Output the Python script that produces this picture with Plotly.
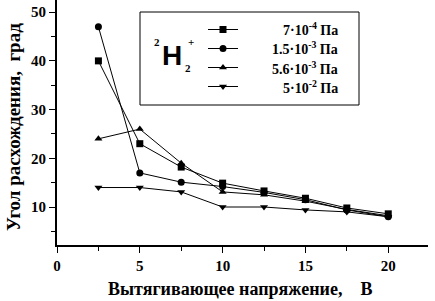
import plotly.graph_objects as go

voltage = [2.5, 5, 7.5, 10, 12.5, 15, 17.5, 20]
s1 = [40, 23, 18.2, 14.9, 13.3, 11.8, 9.8, 8.6]
s2 = [47, 17, 15.1, 14.2, 13.0, 11.5, 9.4, 8.0]
s3 = [24, 26, 19, 13.1, 12.5, 11.2, 9.5, 8.2]
s4 = [14, 14, 13.1, 10.0, 10.0, 9.4, 9.0, 8.0]
names = ["7·10<sup>-4</sup> Па", "1.5·10<sup>-3</sup> Па",
         "5.6·10<sup>-3</sup> Па", "5·10<sup>-2</sup> Па"]
symbols = ["square", "circle", "triangle-up", "triangle-down"]
xticks = [0, 5, 10, 15, 20]
yticks = [10, 20, 30, 40, 50]

fig = go.Figure()
for ys, nm, sym in zip([s1, s2, s3, s4], names, symbols):
    fig.add_trace(go.Scatter(x=voltage, y=ys, name=" ", mode="lines+markers",
                             line=dict(color="black", width=1),
                             marker=dict(symbol=sym, size=7, color="black")))

serif = "Liberation Serif, Times New Roman, serif"
X0, X1, H = 57, 428, 245

def px(xp, yp):
    return (xp - X0) / (X1 - X0), 1 - (yp / H)

fig.update_layout(
    width=435, height=301,
    margin=dict(l=X0, r=435 - X1, t=0, b=301 - H),
    paper_bgcolor="white", plot_bgcolor="white",
    font=dict(family=serif, color="black", size=14),
    showlegend=True,
    legend=dict(x=px(203, 0)[0], y=px(0, 15)[1], xanchor="left", yanchor="top",
                bgcolor="rgba(0,0,0,0)", borderwidth=0,
                font=dict(family=serif, size=12),
                tracegroupgap=0, itemwidth=30),
    xaxis=dict(range=[0, 22.4], tickvals=xticks, ticktext=[f"<b>{v}</b>" for v in xticks],
               showgrid=False, zeroline=False, showline=True, linecolor="black", linewidth=2,
               ticks="outside", ticklen=6, tickwidth=1, tickcolor="black",
               minor=dict(tickvals=[2.5, 7.5, 12.5, 17.5, 22.5], ticks="outside", ticklen=4, tickcolor="black"),
               tickfont=dict(family=serif, size=15)),
    yaxis=dict(range=[2.2, 52.5], tickvals=yticks, ticktext=[f"<b>{v}</b>" for v in yticks],
               showgrid=False, zeroline=False, showline=True, linecolor="black", linewidth=2,
               ticks="outside", ticklen=6, tickwidth=1, tickcolor="black",
               minor=dict(tickvals=[5, 15, 25, 35, 45], ticks="outside", ticklen=4, tickcolor="black"),
               tickfont=dict(family=serif, size=15)),
)

# axis titles
ax, ay = px(13, 127)
fig.add_annotation(text="<b>Угол расхождения,  град</b>", x=ax, y=ay, xref="paper", yref="paper",
                   showarrow=False, textangle=-90, xanchor="center", yanchor="middle",
                   font=dict(family=serif, size=19, color="black"))
ax, ay = px(240, 289)
fig.add_annotation(text="<b>Вытягивающее напряжение,    В</b>", x=ax, y=ay, xref="paper", yref="paper",
                   showarrow=False, xanchor="center", yanchor="middle",
                   font=dict(family=serif, size=18, color="black"))

# legend box
fig.add_shape(type="rect", xref="paper", yref="paper",
              x0=px(140, 0)[0], x1=px(359, 0)[0],
              y0=px(0, 105)[1], y1=px(0, 12)[1],
              line=dict(color="black", width=1), fillcolor="rgba(0,0,0,0)")

# legend labels (right aligned)
for i, nm in enumerate(names):
    ax, ay = px(340, 29 + 19.3 * i)
    fig.add_annotation(text=f"<b>{nm}</b>", x=ax, y=ay, xref="paper", yref="paper",
                       showarrow=False, xanchor="right", yanchor="middle",
                       font=dict(family=serif, size=14, color="black"))

ann = [("<b>H</b>", 172, 56, 28, "Liberation Sans, Arial, sans-serif"),
       ("<b>2</b>", 157, 42, 11, serif), ("<b>2</b>", 188, 68, 11, serif), ("<b>+</b>", 191, 42, 11, serif)]
for t, xp, yp, sz, fam in ann:
    ax, ay = px(xp, yp)
    fig.add_annotation(text=t, x=ax, y=ay, xref="paper", yref="paper", showarrow=False,
                       font=dict(family=fam, size=sz, color="black"),
                       xanchor="center", yanchor="middle")

fig.write_html("out.html", config={"displayModeBar": False},
               post_script="document.body.style.margin='0px';")
